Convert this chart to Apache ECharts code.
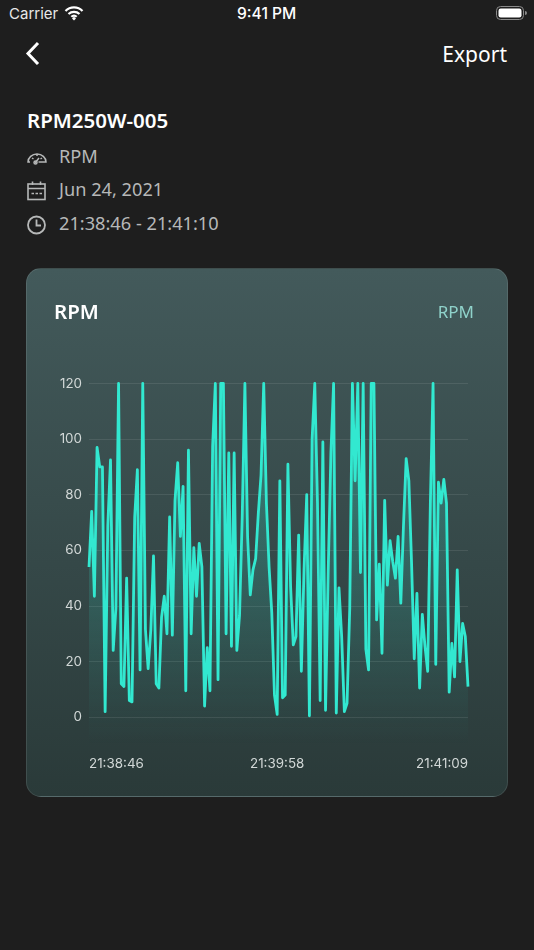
<!DOCTYPE html>
<html>
<head>
<meta charset="utf-8">
<title>RPM</title>
<script src="https://cdn.jsdelivr.net/npm/echarts@6/dist/echarts.min.js"></script>
<style>
    html, body { margin: 0; padding: 0; width: 534px; height: 950px; overflow: hidden; background: #1e1e1e; }
    body { position: relative; font-family: "Noto Sans", sans-serif; color: #fff; }
    .abs { position: absolute; white-space: nowrap; line-height: 1; }
    .sys { font-family: Inter, sans-serif; font-size: 15px; }
    .info { font-size: 18.2px; color: #b6b8b8; left: 59px; }
    .icon { position: absolute; left: 27px; }
    #card {
        position: absolute; left: 26px; top: 268px; width: 480px; height: 527px;
        border: 1px solid rgba(255, 255, 255, 0.1); border-radius: 15px; overflow: hidden;
        background: linear-gradient(180deg, #435a5b 0%, #2a3a39 100%);
    }
    #chart { position: absolute; left: -1px; top: -1px; width: 482px; height: 529px; }
</style>
</head>
<body>
<div class="abs sys" style="left:9px;top:6px;color:#e8e8e8">Carrier</div>
<svg class="icon" style="left:64px;top:5px" width="20" height="16" viewBox="0 0 20 16">
    <path d="M1.5 6 A12 12 0 0 1 18.5 6 M4.5 9 A8 8 0 0 1 15.5 9 M7.3 11.8 A4 4 0 0 1 12.7 11.8" fill="none" stroke="#fff" stroke-width="2.2"/>
    <path d="M8 13.6 L10 11.8 L12 13.6 L10 15.6 Z" fill="#fff"/>
</svg>
<div class="abs sys" style="left:237px;top:6px;font-size:15.6px;font-weight:500">9:41 PM</div>
<svg class="icon" style="left:484px;top:5px" width="44" height="17" viewBox="0 0 44 17">
    <rect x="12.5" y="1.5" width="27" height="13" rx="4" fill="none" stroke="#8a8a8a"/>
    <rect x="14.5" y="3.5" width="23" height="9" rx="2.2" fill="#fff"/>
    <path d="M41 6 v4 a2 2 0 0 0 0 -4" fill="#8a8a8a"/>
</svg>
<svg class="icon" style="left:24px;top:41px" width="18" height="24" viewBox="0 0 18 24">
    <path d="M14 2 L4 12.5 L14 23" fill="none" stroke="#fff" stroke-width="3"/>
</svg>
<div class="abs" style="right:27px;top:44px;font-size:21px">Export</div>

<div class="abs" style="left:27px;top:110px;font-size:20.5px;font-weight:600">RPM250W-005</div>
<svg class="icon" style="top:148px" width="20" height="18" viewBox="0 0 20 18" fill="none" stroke="#b6b8b8" stroke-width="1.5">
    <path d="M3 14 H1 A9 8 0 0 1 19 14 H11.5"/>
    <path d="M5 10 L6.5 11 M10 6 V8 M15 10 L13.5 11 M8 15 L12 10"/>
    <circle cx="8.5" cy="14.5" r="1.5"/>
</svg>
<div class="abs info" style="top:147px">RPM</div>
<svg class="icon" style="top:181px" width="20" height="20" viewBox="0 0 20 20" fill="none" stroke="#b6b8b8" stroke-width="1.6">
    <rect x="1" y="3" width="17" height="15.5"/>
    <path d="M1 7.5 H18 M5.5 0.5 V4 M13.5 0.5 V4"/>
    <path d="M4.5 12.5 H7 M8.5 12.5 H11 M12.5 12.5 H15" stroke-width="1.4"/>
</svg>
<div class="abs info" style="top:180px">Jun 24, 2021</div>
<svg class="icon" style="top:215px" width="20" height="20" viewBox="0 0 20 20" fill="none" stroke="#b6b8b8" stroke-width="1.8">
    <circle cx="9.5" cy="10" r="8.5"/>
    <path d="M9.5 4.5 V10.5 H14"/>
</svg>
<div class="abs info" style="top:214px">21:38:46 - 21:41:10</div>

<div id="card"><div id="chart"></div></div>

<script>
const rpmValues = [
    54, 74, 43.5, 97, 90, 90, 2, 69, 92.5, 24,
    39, 120, 12, 11, 50, 6, 5.5, 72, 89, 17,
    120, 31.5, 17.5, 31.5, 58, 12, 10.5, 36, 43.5, 30,
    72, 29.5, 78, 91.5, 65, 83, 9.5, 96, 30, 61,
    43.5, 62.5, 54, 4, 25, 9.5, 97.5, 120, 13.5, 120,
    120, 30, 95, 25.5, 95, 24, 36.5, 72, 120, 65,
    44, 53, 57, 73.5, 87, 120, 77, 54, 37.5, 8,
    1, 85, 7, 8, 91, 47, 26, 29, 65.5, 16.5,
    53, 80, 0.5, 100, 120, 77, 6, 99, 2.5, 53,
    95, 120, 1.5, 46.5, 29, 2, 5, 39, 120, 85,
    120, 52, 120, 24.5, 17, 120, 120, 35, 55, 23,
    78, 47.5, 63.5, 56, 50, 65, 41, 69, 93, 85,
    55.5, 21, 44.5, 10.5, 37, 25.5, 16.5, 77, 120, 19,
    84.5, 77, 85.5, 77, 9, 26.5, 14.5, 53, 20, 33.7,
    29, 11
];
const timeLabels = ["21:38:46", "21:39:58", "21:41:09"];
const timeLabelIndexes = [0, 70, 141];
const rpmTicks = [0, 20, 40, 60, 80, 100, 120];

const categories = rpmValues.map((v, i) => timeLabels[timeLabelIndexes.indexOf(i)] || "");

const getOptionChart = () => {
    return {
        animation: false,
        title: [
            {
                text: "RPM",
                left: 23,
                top: 30,
                textStyle: { color: "#ffffff", fontFamily: "Noto Sans", fontSize: 20.5, fontWeight: 600 }
            },
            {
                text: "RPM",
                right: 29,
                top: 31.5,
                textStyle: { color: "#8fd2ca", fontFamily: "Noto Sans", fontSize: 17, fontWeight: 400 }
            }
        ],
        grid: { left: 63, top: 115.5, width: 379, height: 361.5 },
        xAxis: {
            type: "category",
            boundaryGap: false,
            data: categories,
            axisLine: { show: false },
            axisTick: { show: false },
            axisLabel: {
                interval: 0,
                margin: 12,
                alignMinLabel: "left",
                alignMaxLabel: "right",
                color: "#d2d8d7",
                fontFamily: "Inter",
                fontSize: 13.4
            }
        },
        yAxis: {
            type: "value",
            min: -10,
            max: 120,
            axisLine: { show: false },
            axisTick: { show: false, customValues: rpmTicks },
            axisLabel: {
                customValues: rpmTicks,
                margin: 7,
                color: "#d2d8d7",
                fontFamily: "Inter",
                fontSize: 13.4
            },
            splitLine: { lineStyle: { color: "rgba(255, 255, 255, 0.09)", width: 1 } }
        },
        series: [
            {
                type: "line",
                data: rpmValues,
                symbol: "none",
                clip: true,
                lineStyle: { color: "#32e8d0", width: 2.8, join: "round" },
                areaStyle: {
                    origin: "start",
                    color: {
                        type: "linear",
                        x: 0, y: 0, x2: 0, y2: 1,
                        colorStops: [
                            { offset: 0, color: "rgba(48, 230, 208, 0.5)" },
                            { offset: 1, color: "rgba(48, 230, 208, 0)" }
                        ]
                    }
                }
            }
        ]
    };
};

window.addEventListener("load", () => {
    const chart = echarts.init(document.getElementById("chart"));
    chart.setOption(getOptionChart());
});
</script>
</body>
</html>
